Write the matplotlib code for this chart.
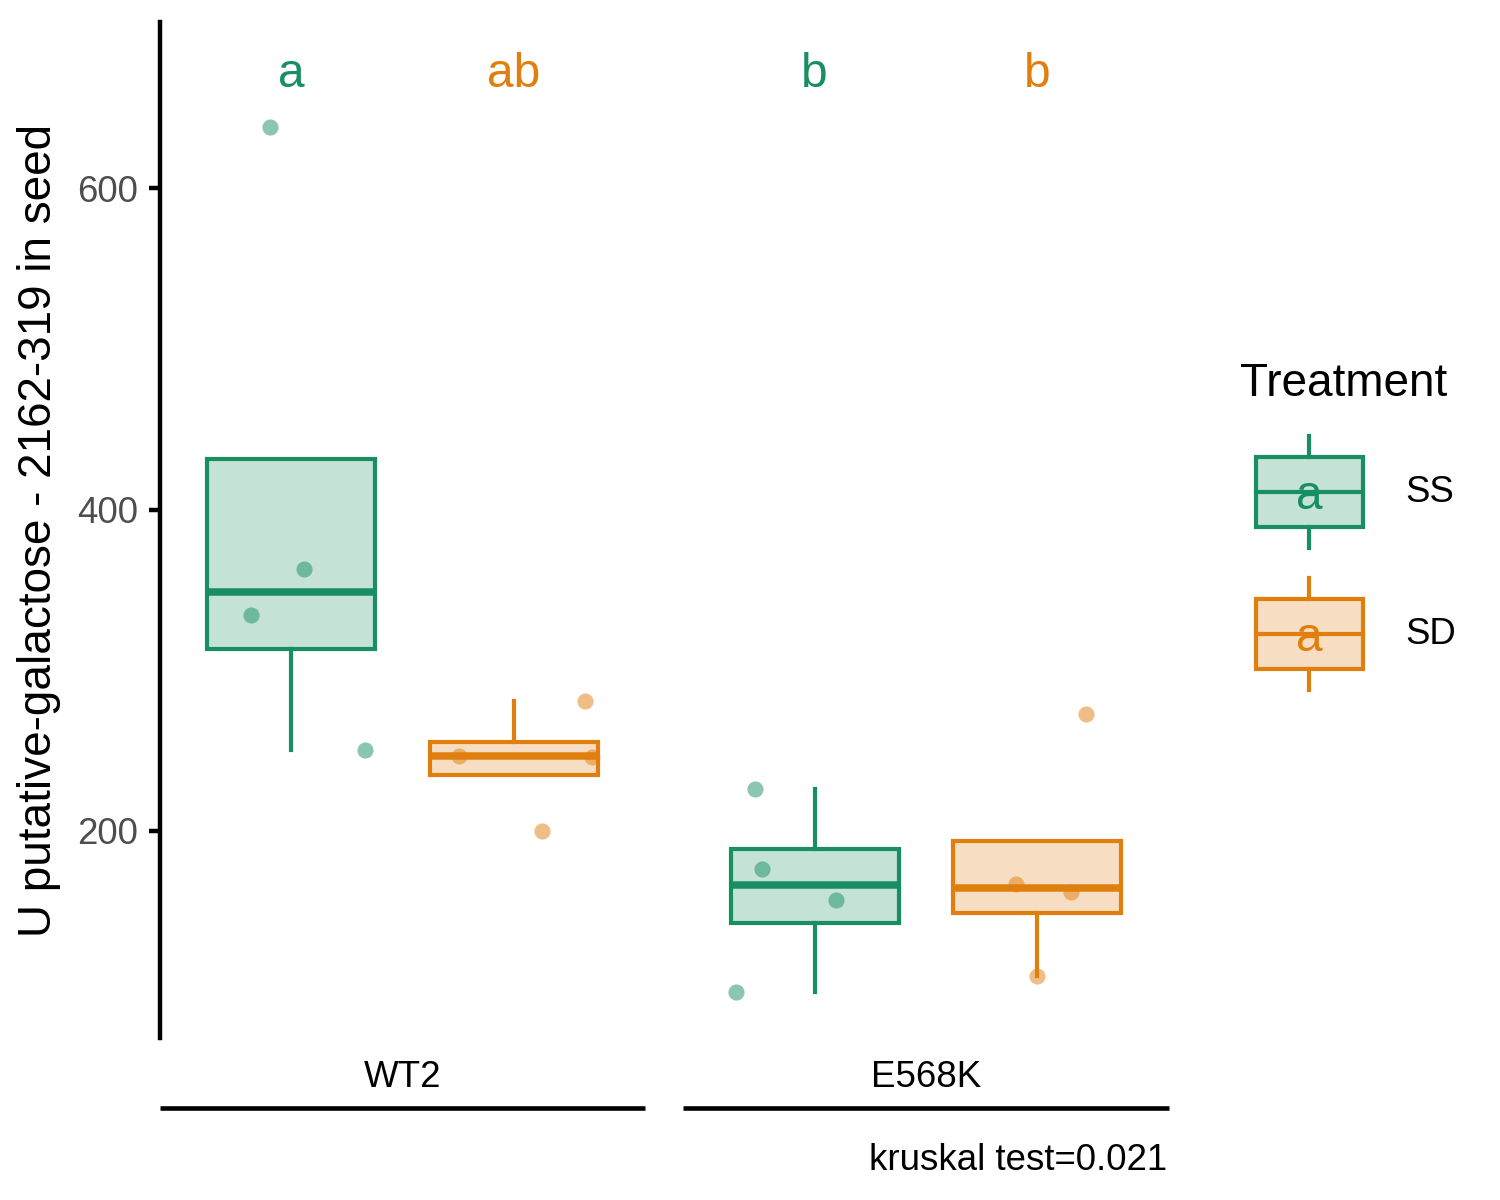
import numpy as np
import matplotlib.pyplot as plt
from matplotlib.colors import to_rgba
from matplotlib.patches import Patch, Rectangle
from matplotlib.lines import Line2D
from matplotlib.text import Text
from matplotlib.legend_handler import HandlerBase

plt.rcParams['font.family'] = ['Liberation Sans', 'DejaVu Sans']

# values (4 seeds per group)
genotypes = ['WT2', 'E568K']
treatments = ['SS', 'SD']
wt2_ss = [638.0, 362.8, 334.6, 250.0]
wt2_sd = [280.8, 246.7, 199.6, 246.1]
e568k_ss = [226.2, 176.1, 157.0, 99.5]
e568k_sd = [272.5, 167.0, 161.8, 109.7]

# horizontal jitter of the points (in x units, relative to the box centre)
jit_wt2_ss = [-0.054, 0.032, -0.101, 0.181]
jit_wt2_sd = [0.176, -0.134, 0.069, 0.193]
jit_e568k_ss = [-0.146, -0.131, 0.054, -0.195]
jit_e568k_sd = [0.119, -0.052, 0.082, -0.002]

letters_wt2 = ['a', 'ab']
letters_e568k = ['b', 'b']
letter_y = 671
legend_letter = 'a'
test_label = 'kruskal test=0.021'
ylab = 'U putative-galactose - 2162-319 in seed'
yticks = [200, 400, 600]

colors = {'SS': '#188F62', 'SD': '#E07F0E'}

data = {'WT2': [wt2_ss, wt2_sd], 'E568K': [e568k_ss, e568k_sd]}
jitter = {'WT2': [jit_wt2_ss, jit_wt2_sd], 'E568K': [jit_e568k_ss, jit_e568k_sd]}
letters = {'WT2': letters_wt2, 'E568K': letters_e568k}

fig = plt.figure(figsize=(5, 4), dpi=300)
ax1 = fig.add_axes([160 / 1500, 1 - 1038 / 1200, 485 / 1500, 1016 / 1200])
ax2 = fig.add_axes([683 / 1500, 1 - 1038 / 1200, 486 / 1500, 1016 / 1200], sharey=ax1)

offset = 0.275
bw = 0.415

for ax, g in zip([ax1, ax2], genotypes):
    for i, t in enumerate(treatments):
        c = colors[t]
        pos = 1 + (offset if i else -offset)
        vals = data[g][i]
        ax.scatter(pos + np.array(jitter[g][i]), vals, s=15, color=c, alpha=0.5,
                   linewidths=0, zorder=2)
        ax.boxplot(vals, positions=[pos], widths=bw, whis=1.5, showfliers=False,
                   showcaps=False, patch_artist=True, zorder=3,
                   boxprops=dict(facecolor=to_rgba(c, 0.25), edgecolor=c, linewidth=1.0),
                   medianprops=dict(color=c, linewidth=1.8, solid_capstyle='butt'),
                   whiskerprops=dict(color=c, linewidth=1.0))
        ax.text(pos, letter_y, letters[g][i], color=c, ha='center', va='center',
                fontsize=11.5)
    ax.set_xlim(0.4, 1.6)
    ax.set_xticks([])
    for s in ['top', 'right', 'bottom']:
        ax.spines[s].set_visible(False)
    ax.text(0.5, -0.0485, g, transform=ax.transAxes, ha='center', va='baseline',
            fontsize=8.8)
    ax.plot([0, 1], [-0.0689, -0.0689], transform=ax.transAxes, color='black',
            lw=1.1, clip_on=False, solid_capstyle='butt')

ax1.set_ylim(71, 703.5)
ax1.set_yticks(yticks)
ax1.spines['left'].set_linewidth(1.07)
ax1.tick_params(axis='y', length=2.6, width=1.07, pad=2.6, labelsize=8.8,
                labelcolor='#4D4D4D')
ax1.set_ylabel(ylab, fontsize=11, labelpad=4)

ax2.spines['left'].set_visible(False)
ax2.tick_params(axis='y', left=False, labelleft=False)

fig.text(1167 / 1500, 1 - 1170 / 1200, test_label, ha='right', va='baseline',
         fontsize=8.8)


class BoxKey(HandlerBase):
    # legend key: small boxplot with the letter on top, as in ggplot
    def create_artists(self, legend, orig_handle, xdescent, ydescent, width,
                       height, fontsize, trans):
        c = orig_handle.get_edgecolor()
        x0 = -xdescent + 0.13 * width
        w = width * 0.87
        y0 = -ydescent
        bh = height * 0.625
        by = y0 + (height - bh) / 2
        cx = x0 + w / 2
        rect = Rectangle((x0, by), w, bh, facecolor=orig_handle.get_facecolor(),
                         edgecolor=c, lw=1.0, transform=trans)
        med = Line2D([x0, x0 + w], [y0 + height / 2] * 2, color=c, lw=1.0,
                     transform=trans)
        wt = Line2D([cx, cx], [by + bh, y0 + height], color=c, lw=1.0, transform=trans)
        wb = Line2D([cx, cx], [y0, by], color=c, lw=1.0, transform=trans)
        txt = Text(cx, y0 + height * 0.46, legend_letter, color=c, ha='center',
                   va='center', fontsize=11.5, transform=trans)
        return [rect, med, wt, wb, txt]


handles = [Patch(facecolor=to_rgba(colors[t], 0.25), edgecolor=colors[t]) for t in treatments]
fig.legend(handles, treatments, handler_map={Patch: BoxKey()},
           loc='upper left', bbox_to_anchor=(1240 / 1500, 1 - 362 / 1200),
           frameon=False, fontsize=8.8, title='Treatment', title_fontsize=11,
           alignment='left', borderpad=0, borderaxespad=0,
           handlelength=3.354, handleheight=4.32, labelspacing=0.82,
           handletextpad=1.15)

fig.savefig('out.png', dpi=300)
